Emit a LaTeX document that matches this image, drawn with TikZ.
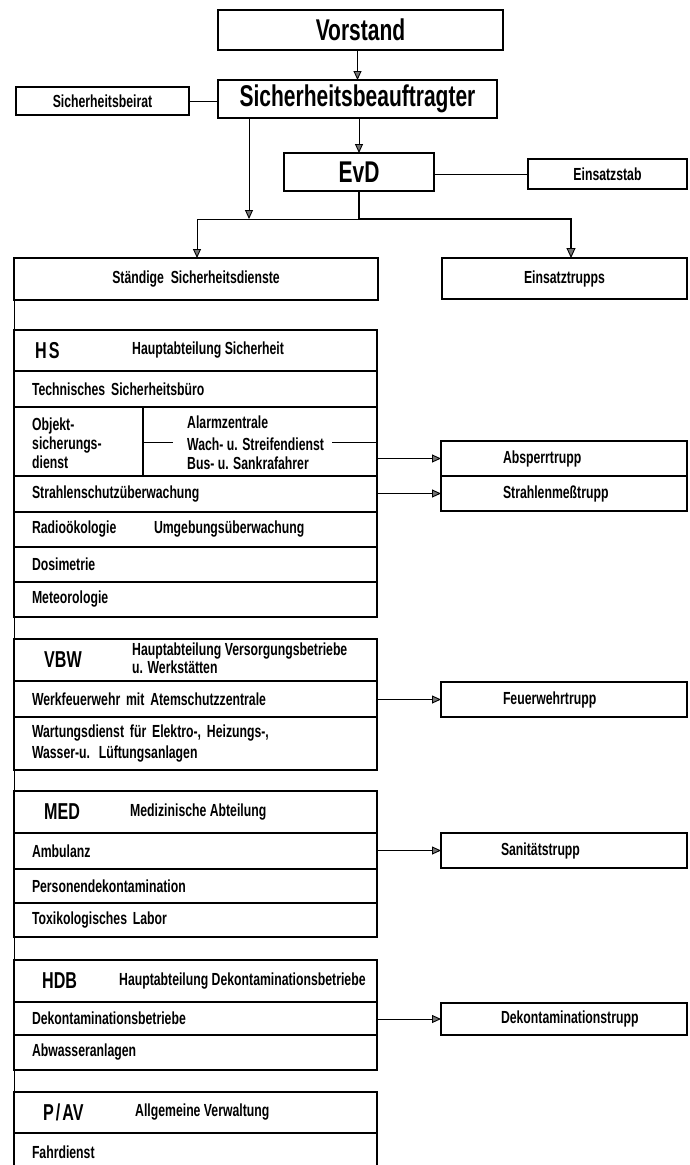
\documentclass[tikz,border=0pt]{standalone}
\usepackage{fontspec}
\setmainfont{Liberation Sans}[FakeStretch=0.7]
\usetikzlibrary{arrows.meta}
\newcommand\sm{\fontsize{17.5}{19}\selectfont\bfseries}
\newcommand\ab{\fontsize{23}{25}\selectfont\bfseries}
\newcommand\bigt{\fontsize{30}{33}\selectfont\bfseries}
\tikzset{
  bx/.style={draw, line width=1.2pt, inner sep=0pt, outer sep=0pt, font=\sm},
  row/.style={bx, anchor=north west, minimum width=363pt, text width=327pt, inner xsep=18pt, align=left, minimum height=#1},
  hdr/.style={bx, anchor=north west, minimum width=363pt, minimum height=#1},
  trupp/.style={bx, anchor=north west, minimum width=246pt, text width=246pt, inner xsep=0pt, align=left, minimum height=#1},
  txt/.style={anchor=west, inner sep=0pt, font=\sm},
  abb/.style={anchor=west, inner sep=0pt, font=\ab},
  ln/.style={line width=0.9pt},
  arr/.style={ln, -{Triangle[length=9pt,width=8pt,fill=black!55]}},
  thk/.style={line width=2.8pt, -{Triangle[length=10pt,width=9pt,fill=black!55,line width=0.9pt]}}
}
\begin{document}
\begin{tikzpicture}[x=1pt,y=-1pt]
\useasboundingbox (0,0) rectangle (689,1165);
% top
\node[bx, font=\bigt, minimum width=285pt, minimum height=40pt] (vor) at (360.5,30) {Vorstand};
\node[bx, font=\bigt, minimum width=279pt, minimum height=38pt] (sb) at (357.5,99) {Sicherheitsbeauftragter};
\node[bx, minimum width=173pt, minimum height=28pt] (beirat) at (102.5,101) {Sicherheitsbeirat};
\node[bx, font=\bigt, minimum width=150pt, minimum height=38pt] (evd) at (359,172) {EvD};
\node[bx, minimum width=159pt, minimum height=30pt] (stab) at (607.5,174) {Einsatzstab};
\node[bx, minimum width=364pt, minimum height=42pt] (sd) at (196,279) {Ständige \ Sicherheitsdienste};
\node[bx, minimum width=245pt, minimum height=41pt] (et) at (564.5,278.5) {Einsatztrupps};

\draw[arr] (vor.south -| sb.north) -- (sb.north);
\draw[ln] (beirat.east) -- (beirat.east -| sb.west);
\draw[arr] (sb.south -| evd.north) -- (evd.north);
\draw[ln] (evd.east |- stab.west) -- (stab.west);
\coordinate (j1) at (249,219);
\coordinate (jl) at (197,219);
\coordinate (jm) at (359,219);
\coordinate (jr) at (571,219);
\draw[arr] (sb.south -| j1) -- (j1);
\draw[ln] (jl) -- (jm);
\draw[arr] (jl) -- (sd.north -| jl);
\draw[thk] (evd.south) -- (jm) -- (jr) -- (jr |- et.north);

% trunk
\coordinate (tend) at (14,1180);
\draw[ln] (sd.south west) -- (tend);

% HS
\node[hdr=41pt] (hs) at (14,330) {};
\node[abb] (hsab) at (35,350.5) {H\kern2pt S};
\node[txt] (hst) at (132,350.5) {Hauptabteilung Sicherheit};
\node[row=36pt] (tsb) at (14,371) {Technisches Sicherheitsbüro};
\node[bx, anchor=north west, minimum width=129pt, minimum height=69pt] (objL) at (14,407) {};
\node[bx, anchor=north west, minimum width=234pt, minimum height=69pt] (objR) at (143,407) {};
\node[txt, align=left] (objt) at (32,443) {Objekt-\\sicherungs-\\dienst};
\node[txt, align=left] (wach) at (187,443) {Alarmzentrale\\[3pt]Wach- u. Streifendienst\\Bus- u. Sankrafahrer};
\coordinate (wl) at (173,442);
\coordinate (wr) at (332,442);
\draw[ln] (objR.west |- wl) -- (wl);
\draw[ln] (wr) -- (wr -| objR.east);
\node[row=36pt] (ssu) at (14,476) {Strahlenschutzüberwachung};
\node[row=35pt] (radio) at (14,512) {\makebox[122pt][l]{Radioökologie}Umgebungsüberwachung};
\node[row=35pt] (dosi) at (14,547) {Dosimetrie};
\node[row=35pt] (meteo) at (14,582) {Meteorologie};

\node[trupp=35pt] (abs) at (441,441) {\hspace*{62pt}Absperrtrupp};
\node[trupp=35pt] (smt) at (441,476) {\hspace*{62pt}Strahlenmeßtrupp};
\draw[arr] (objR.east |- abs.west) -- (abs.west);
\draw[arr] (ssu.east |- smt.west) -- (smt.west);

% VBW
\node[hdr=42pt] (vbw) at (14,639) {};
\node[abb] (vbwab) at (44,660) {VBW};
\node[txt, align=left] (vbwt) at (132,658) {Hauptabteilung Versorgungsbetriebe\\[-1pt]u. Werkstätten};
\node[row=36pt] (wf) at (14,681) {Werkfeuerwehr mit Atemschutzzentrale};
\node[row=53pt] (wd) at (14,717) {Wartungsdienst für Elektro-, Heizungs-,\\[1.5pt]Wasser-u. Lüftungsanlagen};
\node[trupp=35pt] (fwt) at (441,682) {\hspace*{62pt}Feuerwehrtrupp};
\draw[arr] (wf.east |- fwt.west) -- (fwt.west);

% MED
\node[hdr=42pt] (med) at (14,791) {};
\node[abb] (medab) at (44,812) {MED};
\node[txt] (medt) at (130,812) {Medizinische Abteilung};
\node[row=36pt] (amb) at (14,833) {Ambulanz};
\node[row=34pt] (pdk) at (14,869) {Personendekontamination};
\node[row=34pt] (tox) at (14,903) {Toxikologisches Labor};
\node[trupp=35pt] (san) at (441,833) {\hspace*{60pt}Sanitätstrupp};
\draw[arr] (amb.east |- san.west) -- (san.west);

% HDB
\node[hdr=42pt] (hdb) at (14,960) {};
\node[abb] (hdbab) at (42,981) {HDB};
\node[txt] (hdbt) at (119,981) {Hauptabteilung Dekontaminationsbetriebe};
\node[row=33pt] (dkb) at (14,1002) {Dekontaminationsbetriebe};
\node[row=35pt] (abw) at (14,1035) {Abwasseranlagen};
\node[trupp=32pt] (dkt) at (441,1003) {\hspace*{60pt}Dekontaminationstrupp};
\draw[arr] (dkb.east |- dkt.west) -- (dkt.west);

% P/AV
\node[hdr=41pt] (pav) at (14,1092) {};
\node[abb] (pavab) at (43,1112.5) {P\kern2pt/\kern2pt AV};
\node[txt] (pavt) at (135,1112.5) {Allgemeine Verwaltung};
\node[row=38pt] (fahr) at (14,1133) {Fahrdienst};
\end{tikzpicture}
\end{document}
